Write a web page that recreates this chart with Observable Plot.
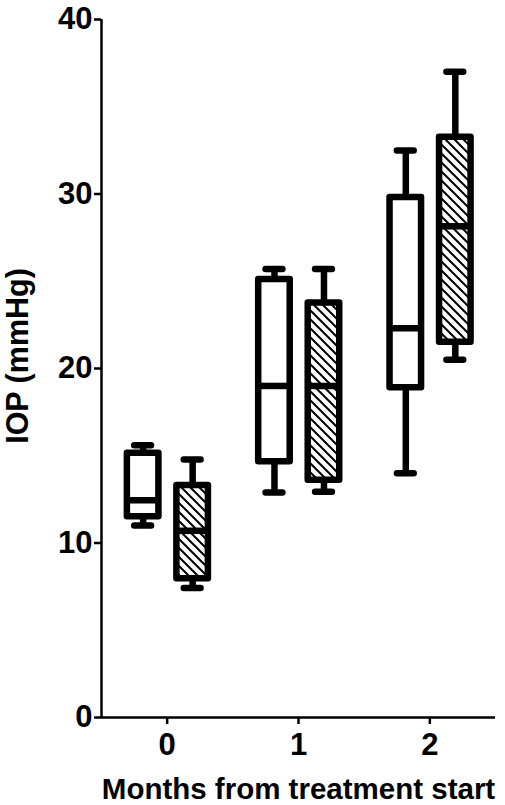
<!DOCTYPE html>
<html>
<head>
<meta charset="utf-8">
<script src="https://cdn.jsdelivr.net/npm/d3@7"></script>
<script src="https://cdn.jsdelivr.net/npm/@observablehq/plot@0.6"></script>
<style>
  html, body { margin: 0; padding: 0; background: #fff; }
  #chart { width: 505px; height: 805px; }
</style>
</head>
<body>
<div id="chart"></div>
<script>
// ---- data ----
const months = [0, 1, 2];
const xTicks = [0, 1, 2];
const yTicks = [0, 10, 20, 30, 40];
const xTitle = "Months from treatment start";
const yTitle = "IOP (mmHg)";

// open (white) boxes
const openMin    = [11.0, 12.9, 14.0];
const openQ1     = [11.5, 14.65, 18.9];
const openMedian = [12.45, 19.0, 22.3];
const openQ3     = [15.15, 25.1, 29.8];
const openMax    = [15.6, 25.7, 32.5];

// hatched boxes
const hatchMin    = [7.42, 12.93, 20.5];
const hatchQ1     = [7.95, 13.6, 21.5];
const hatchMedian = [10.7, 19.0, 28.15];
const hatchQ3     = [13.3, 23.75, 33.25];
const hatchMax    = [14.78, 25.7, 37.0];

// ---- layout constants ----
const xDomain = [-0.5, 2.5];
const yDomain = [0, 40];
const openShift = -0.183;
const hatchShift = 0.194;
const boxHalf = 0.12;
const capHalf = 0.064;
const sw = 6.5;

const build = (shift, fill, mn, q1, md, q3, mx) =>
  months.map((m, i) => ({
    pos: m + shift, fill,
    min: mn[i], q1: q1[i], median: md[i], q3: q3[i], max: mx[i]
  }));

const boxes = [
  ...build(openShift, "white", openMin, openQ1, openMedian, openQ3, openMax),
  ...build(hatchShift, "url(#hatch)", hatchMin, hatchQ1, hatchMedian, hatchQ3, hatchMax)
];

const font = "'Liberation Sans', Arial, Helvetica, sans-serif";

const chart = Plot.plot({
  width: 505,
  height: 805,
  marginLeft: 101,
  marginRight: 10,
  marginTop: 19,
  marginBottom: 88,
  style: { fontFamily: font, background: "white", color: "black", overflow: "visible" },
  x: { type: "linear", domain: xDomain, axis: null },
  y: { domain: yDomain, axis: null },
  marks: [
    // whiskers
    Plot.ruleX(boxes, { x: "pos", y1: "q3", y2: "max", stroke: "black", strokeWidth: sw }),
    Plot.ruleX(boxes, { x: "pos", y1: "min", y2: "q1", stroke: "black", strokeWidth: sw }),
    // caps
    Plot.ruleY(boxes, { y: "max", x1: d => d.pos - capHalf, x2: d => d.pos + capHalf, stroke: "black", strokeWidth: sw, strokeLinecap: "round" }),
    Plot.ruleY(boxes, { y: "min", x1: d => d.pos - capHalf, x2: d => d.pos + capHalf, stroke: "black", strokeWidth: sw, strokeLinecap: "round" }),
    // boxes
    Plot.rect(boxes, { x1: d => d.pos - boxHalf, x2: d => d.pos + boxHalf, y1: "q1", y2: "q3", fill: "fill", stroke: "black", strokeWidth: sw, strokeLinejoin: "round" }),
    // medians
    Plot.ruleY(boxes, { y: "median", x1: d => d.pos - boxHalf, x2: d => d.pos + boxHalf, stroke: "black", strokeWidth: sw }),
    // axes lines
    Plot.ruleX([xDomain[0]], { stroke: "black", strokeWidth: 2.5 }),
    Plot.ruleY([yDomain[0]], { stroke: "black", strokeWidth: 2.5 }),
    Plot.axisY({ ticks: yTicks, tickSize: 7, tickPadding: 2, fontSize: 31, fontWeight: "bold", strokeWidth: 2.5, label: null, tickFormat: d3.format("d") }),
    Plot.axisX({ ticks: xTicks, tickSize: 7, tickPadding: 8, fontSize: 31, fontWeight: "bold", strokeWidth: 2.5, label: null, tickFormat: d3.format("d") }),
    // titles
    Plot.text([xTitle], { frameAnchor: "bottom", dy: 72, textAnchor: "middle", lineAnchor: "middle", fontSize: 29.5, fontWeight: "bold" }),
    Plot.text([yTitle], { frameAnchor: "left", rotate: -90, dx: -83, dy: -12.5, textAnchor: "middle", lineAnchor: "middle", fontSize: 30.5, fontWeight: "bold" })
  ]
});

// hatch pattern definition
const defs = d3.select(chart).insert("defs", ":first-child");
const pat = defs.append("pattern")
  .attr("id", "hatch")
  .attr("patternUnits", "userSpaceOnUse")
  .attr("width", 9).attr("height", 9);
pat.append("rect").attr("width", 9).attr("height", 9).attr("fill", "white");
pat.append("path")
  .attr("d", "M0,0L9,9M-2,7L2,11M7,-2L11,2")
  .attr("stroke", "black").attr("stroke-width", 2);

document.getElementById("chart").appendChild(chart);
</script>
</body>
</html>
